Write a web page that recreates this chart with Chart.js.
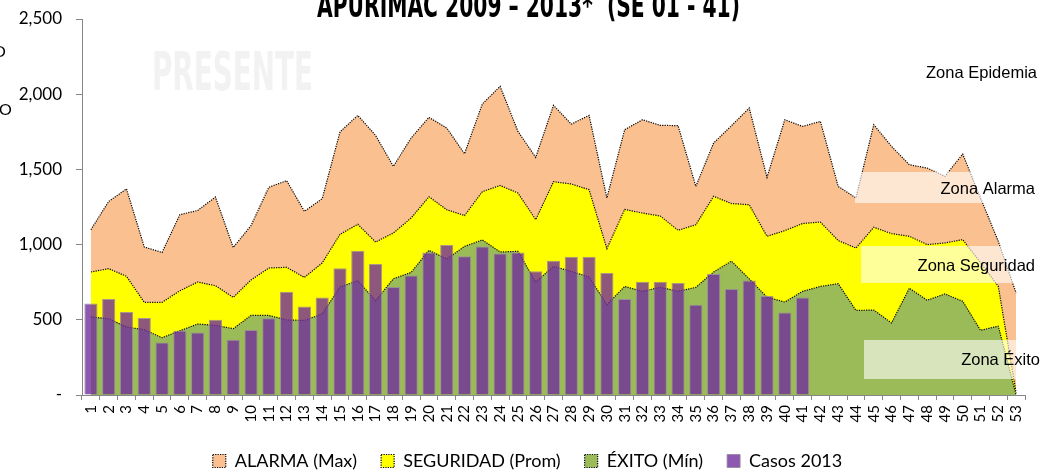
<!DOCTYPE html>
<html>
<head>
<meta charset="utf-8">
<script src="https://cdn.jsdelivr.net/npm/chart.js@4.4.1/dist/chart.umd.min.js"></script>
<style>
  html, body { margin: 0; padding: 0; background: #fff; }
  #wrap { width: 1041px; height: 472px; position: relative; }
</style>
</head>
<body>
<div id="wrap"><canvas id="c"></canvas></div>
<script>
const semanas = ['1','2','3','4','5','6','7','8','9','10','11','12','13','14','15','16','17','18','19','20',
  '21','22','23','24','25','26','27','28','29','30','31','32','33','34','35','36','37','38','39','40',
  '41','42','43','44','45','46','47','48','49','50','51','52','53'];

const alarmaMax = [1099, 1287, 1370, 984, 948, 1199, 1227, 1316, 981, 1126, 1381, 1425, 1221, 1305, 1749,
  1859, 1726, 1520, 1709, 1846, 1775, 1604, 1935, 2052, 1753, 1580, 1926, 1801, 1859, 1310, 1764, 1830,
  1793, 1791, 1387, 1675, 1790, 1908, 1447, 1830, 1786, 1819, 1387, 1310, 1797, 1653, 1531, 1509, 1454,
  1602, 1310, 1021, 678];

const seguridadProm = [818, 840, 789, 616, 616, 693, 751, 727, 649, 765, 844, 849, 782, 878, 1068, 1135,
  1017, 1077, 1177, 1318, 1232, 1193, 1352, 1393, 1343, 1166, 1418, 1403, 1365, 973, 1234, 1210, 1190,
  1095, 1132, 1321, 1273, 1265, 1055, 1093, 1140, 1150, 1027, 977, 1115, 1073, 1055, 1000, 1011, 1033,
  880, 722, 15];

const exitoMin = [519, 507, 452, 434, 381, 427, 472, 463, 441, 529, 529, 499, 496, 539, 718, 760, 627,
  773, 815, 962, 904, 988, 1031, 951, 955, 751, 855, 822, 785, 600, 722, 689, 716, 689, 716, 818, 890,
  772, 650, 618, 689, 722, 740, 562, 565, 479, 710, 630, 672, 623, 430, 458, 0];

const casos2013 = [609, 638, 552, 512, 349, 427, 416, 501, 367, 433, 510, 687, 589, 648, 842, 959, 871,
  718, 795, 948, 997, 922, 988, 940, 948, 822, 893, 920, 920, 811, 638, 753, 753, 745, 600, 804, 705,
  762, 658, 549, 648];

const yTicks = [0, 500, 1000, 1500, 2000, 2500];
const tituloTxt = 'APURIMAC 2009 \u2013 2013*  (SE 01 - 41)';
const zonas = ['Zona Epidemia', 'Zona Alarma', 'Zona Seguridad', 'Zona \u00c9xito'];

const FONT = 'Lato, "Open Sans", sans-serif';
const NARROW = '"Liberation Sans Narrow", "DejaVu Sans Condensed", sans-serif';

// texto condensado: alto fijo, ancho forzado con scale
function narrowText(ctx, text, x, baseline, size, width, color) {
  ctx.save();
  ctx.font = `bold ${size}px ${NARROW}`;
  const w = ctx.measureText(text).width;
  ctx.translate(x, baseline);
  ctx.scale(width / w, 1);
  ctx.fillStyle = color;
  ctx.textAlign = 'left';
  ctx.textBaseline = 'alphabetic';
  ctx.fillText(text, 0, 0);
  ctx.restore();
}

const overlay = {
  id: 'overlay',
  beforeDatasetsDraw(chart) {
    narrowText(chart.ctx, 'PRESENTE', 152, 90, 53, 161, '#f2f2f2');
  },
  afterDatasetsDraw(chart) {
    const ctx = chart.ctx;
    ctx.save();
    const cajas = [
      { t: zonas[1], x: 855, y: 172, h: 31, tx: 1035, ty: 189 },
      { t: zonas[2], x: 861, y: 246, h: 37, tx: 1035, ty: 266 },
      { t: zonas[3], x: 864, y: 340, h: 39, tx: 1040, ty: 360 },
    ];
    ctx.fillStyle = 'rgba(255,255,255,0.6)';
    cajas.forEach(c => ctx.fillRect(c.x, c.y, 1041 - c.x, c.h));
    ctx.fillStyle = '#000';
    ctx.font = '16.5px "Liberation Sans", Arial, sans-serif';
    ctx.textAlign = 'right';
    ctx.textBaseline = 'middle';
    ctx.fillText(zonas[0], 1037, 73);
    cajas.forEach(c => ctx.fillText(c.t, c.tx, c.ty));
    ctx.restore();
  },
  afterDraw(chart) {
    const ctx = chart.ctx;
    narrowText(ctx, tituloTxt, 317, 17, 34, 423, '#000');
    ctx.save();
    ctx.font = '16px ' + FONT;
    ctx.fillStyle = '#000';
    ctx.textAlign = 'left';
    ctx.textBaseline = 'middle';
    ctx.fillText('O', -7, 52);
    ctx.fillText('O', -1, 110);
    ctx.restore();
  }
};

const area = (label, data, color, order) => ({
  type: 'line',
  label,
  data,
  order,
  backgroundColor: color,
  borderColor: '#000',
  borderWidth: 1.2,
  borderDash: [1.2, 1.2],
  fill: 'origin',
  pointRadius: 0,
  tension: 0,
});

new Chart(document.getElementById('c'), {
  type: 'bar',
  data: {
    labels: semanas,
    datasets: [
      area('ALARMA (Max)', alarmaMax, '#fac090', 3),
      area('SEGURIDAD (Prom)', seguridadProm, '#ffff00', 2),
      area('\u00c9XITO (M\u00edn)', exitoMin, '#9bbb59', 1),
      {
        type: 'bar',
        label: 'Casos 2013',
        data: casos2013,
        order: 0,
        backgroundColor: 'rgba(114,46,156,0.8)',
        borderColor: 'rgba(150,135,160,0.85)',
        borderWidth: 1,
        barPercentage: 0.74,
        categoryPercentage: 1,
      },
    ],
  },
  options: {
    responsive: true,
    maintainAspectRatio: false,
    animation: false,
    layout: { padding: { top: 0, left: 16, right: 2, bottom: -8 } },
    scales: {
      x: {
        offset: true,
        afterFit: s => { s.height = 33; s.paddingRight = 16; s.paddingLeft = 0; },
        grid: { offset: true, drawOnChartArea: false, color: '#868686', tickLength: 5 },
        border: { color: '#868686' },
        ticks: { color: '#000', font: { family: FONT, size: 15 }, maxRotation: 90, minRotation: 90, autoSkip: false, padding: 5 },
      },
      y: {
        min: 0,
        max: 2500,
        afterBuildTicks: s => { s.ticks = yTicks.map(v => ({ value: v })); },
        afterFit: s => { s.width = 66; s.paddingTop = 19; },
        grid: { drawOnChartArea: false, color: '#868686', tickLength: 6 },
        border: { color: '#868686' },
        ticks: {
          color: '#000',
          font: { family: FONT, size: 17, lineHeight: 1 },
          padding: 14,
          callback: v => v === 0 ? '-' : v.toLocaleString('en-US'),
        },
      },
    },
    plugins: {
      legend: {
        position: 'bottom',
        labels: {
          color: '#000',
          font: { family: FONT, size: 18 },
          boxWidth: 13,
          boxHeight: 13,
          padding: 24,
          sort: (a, b) => a.datasetIndex - b.datasetIndex,
        },
      },
      tooltip: { enabled: false },
    },
  },
  plugins: [overlay],
});
</script>
</body>
</html>
